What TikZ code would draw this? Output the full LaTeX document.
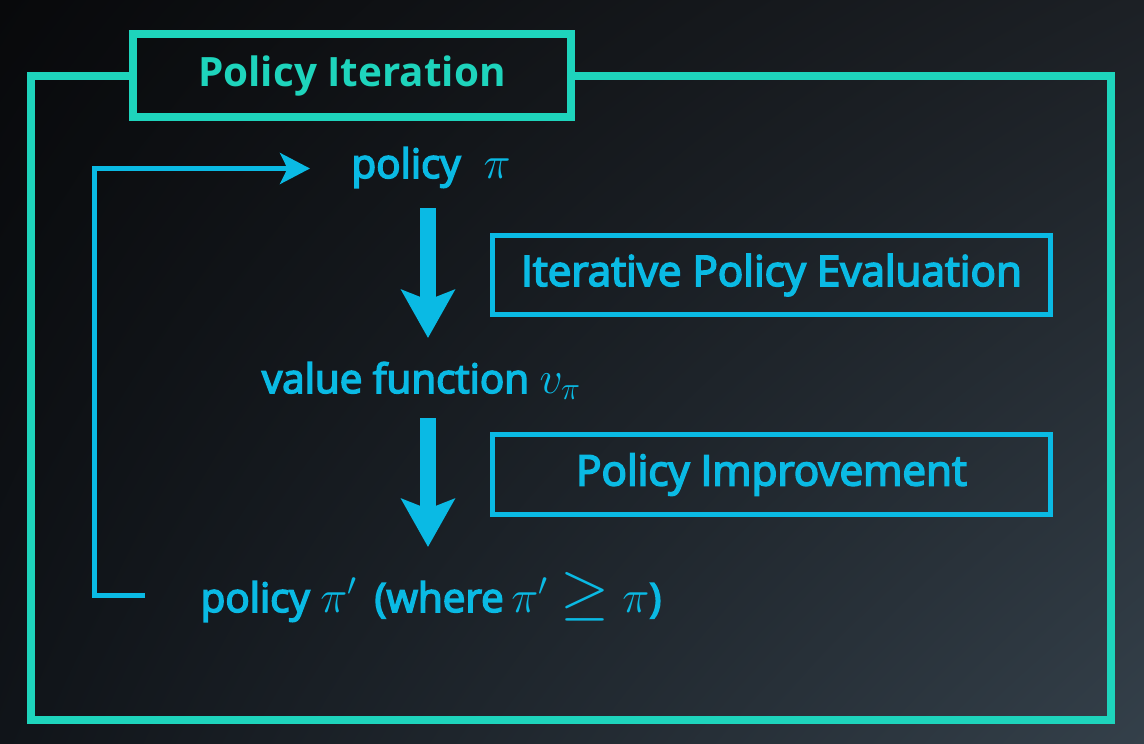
\documentclass[tikz,border=0pt]{standalone}
\usepackage{fix-cm}
\usepackage{fontspec}
\setmainfont{Open Sans}
\newfontfamily\flowfont{Open Sans}[FakeBold=4]
\usetikzlibrary{arrows.meta,shadings}
\definecolor{frameteal}{RGB}{30,212,188}
\definecolor{flowblue}{RGB}{10,186,228}
\definecolor{bgTL}{RGB}{8,9,11}
\definecolor{bgTR}{RGB}{28,32,37}
\definecolor{bgBL}{RGB}{16,20,25}
\definecolor{bgBR}{RGB}{52,64,74}
\newcommand{\bigmath}[1]{{\fontsize{26}{30}\selectfont$#1$}}
\newcommand{\biggeq}{\mathrel{\scalebox{1.38}{$\geq$}}}
\tikzset{
  outline/.style  = {draw=frameteal, line width=0.16cm},
  titlebox/.style = {outline, text=frameteal,
    font=\fontsize{23}{28}\selectfont\bfseries,
    minimum width=8.76cm, minimum height=1.66cm},
  stepbox/.style  = {draw=flowblue, line width=0.1cm, text=flowblue,
    font=\fontsize{24}{28}\selectfont\flowfont,
    minimum width=11.16cm, minimum height=1.6cm},
  flowtext/.style = {text=flowblue, anchor=base,
    font=\fontsize{23}{28}\selectfont\flowfont},
  bigarrow/.style = {flowblue, line width=0.32cm,
    -{Stealth[width=1.06cm,length=0.96cm,inset=0.2cm]}},
  feedback/.style = {flowblue, line width=0.1cm,
    -{Stealth[width=0.62cm,length=0.6cm,inset=0.15cm]}}
}

\begin{document}
\begin{tikzpicture}[x=0.02cm,y=-0.02cm]
  % background
  \shade[upper left=bgTL, upper right=bgTR, lower left=bgBL, lower right=bgBR]
    (0,0) rectangle (1144,744);
  \useasboundingbox (0,0) rectangle (1144,744);

  % frame and title
  \node[titlebox] (title) at (352,75.5) {Policy Iteration};
  \draw[outline] (title.west) -| (31,720) -| (1111,75.5) -- (title.east);

  % the three stages
  \node[flowtext] (pol)  at (431,178) {policy\hspace{13pt}\bigmath{\pi}};
  \node[flowtext] (vf)   at (421.5,393) {value function \bigmath{v_\pi}};
  \node[flowtext] (pnew) at (431,612)
    {policy \bigmath{\pi'}\hspace{4pt} (where\bigmath{\,\pi' \biggeq \pi})};

  \node[stepbox] (eval) at (771.5,275)   {Iterative Policy Evaluation};
  \node[stepbox] (impr) at (771.5,474.5) {Policy Improvement};

  % arrows
  \coordinate (a1) at (428,208);
  \coordinate (a2) at (428,418);
  \draw[bigarrow] (a1) -- ++(0,130);
  \draw[bigarrow] (a2) -- ++(0,129);
  \coordinate (fbstart) at (145,595);
  \coordinate (fbend)   at (310,168.5);
  \draw[feedback] (fbstart) -- (94.5,595) |- (fbend);
\end{tikzpicture}
\end{document}
